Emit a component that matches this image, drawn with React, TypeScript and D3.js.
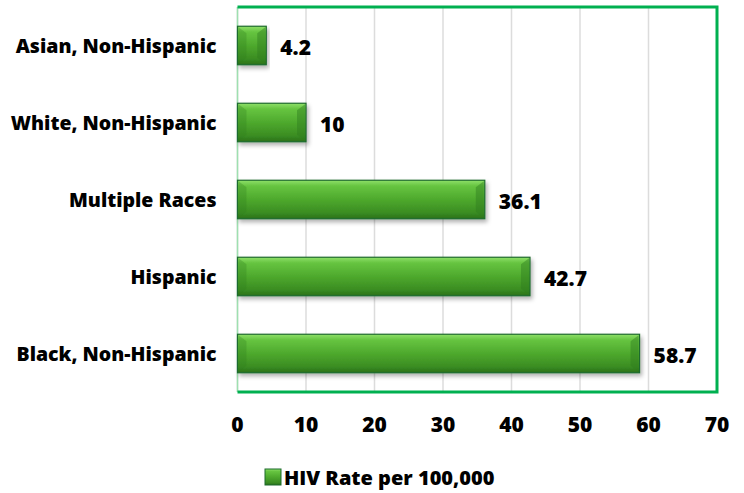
import React from "react";
import * as d3 from "d3";

const categories = ["Asian, Non-Hispanic", "White, Non-Hispanic", "Multiple Races", "Hispanic", "Black, Non-Hispanic"];
const values = [4.2, 10, 36.1, 42.7, 58.7];
const valueLabels = ["4.2", "10", "36.1", "42.7", "58.7"];
const xTicks = [0, 10, 20, 30, 40, 50, 60, 70];
const seriesName = "HIV Rate per 100,000";

const W = 744, H = 493;
const left = 237.5, right = 717, top = 7, bottom = 392;
const FONT = "'Open Sans', sans-serif";

export default function App() {
  const x = d3.scaleLinear().domain([0, 70]).range([left, right]);
  const y = d3.scaleBand().domain(categories).range([top, bottom]).paddingInner(0.5).paddingOuter(0.25);
  const bh = y.bandwidth();
  return (
    <svg width={W} height={H} style={{ position: "absolute", left: 0, top: 0, background: "#fff" }}>
      <defs>
        <linearGradient id="barg" x1="0" y1="0" x2="0" y2="1">
          <stop offset="0" stopColor="#8fe06a" />
          <stop offset="0.15" stopColor="#66c440" />
          <stop offset="0.5" stopColor="#4ea92d" />
          <stop offset="0.85" stopColor="#3a8c22" />
          <stop offset="1" stopColor="#2a7019" />
        </linearGradient>
        <filter id="sh" x="-5%" y="-20%" width="115%" height="160%">
          <feDropShadow dx="2" dy="3" stdDeviation="2" floodColor="#000" floodOpacity="0.3" />
        </filter>
      </defs>
      {xTicks.map((t) => (
        <line key={t} x1={x(t)} x2={x(t)} y1={top} y2={bottom} stroke="#dcdcdc" strokeWidth={1.5} />
      ))}
      <line x1={left} x2={left} y1={top} y2={bottom} stroke="#9ee0b0" strokeWidth={1.5} />
      {categories.map((c, i) => {
        const y0 = y(c)!;
        const xe = x(values[i]);
        return (
          <g key={c}>
            <rect x={x(0)} y={y0} width={xe - x(0)} height={bh} fill="url(#barg)" stroke="#1d6b2d" strokeWidth={1.2} filter="url(#sh)" />
            <polygon
              points={`${xe - 1},${y0 + 1} ${xe - 1},${y0 + bh - 1} ${xe - 9},${y0 + bh - 7} ${xe - 9},${y0 + 7}`}
              fill="#2f7d1f" opacity={0.45}
            />
            <polygon
              points={`${x(0) + 1},${y0 + 1} ${x(0) + 1},${y0 + bh - 1} ${x(0) + 9},${y0 + bh - 7} ${x(0) + 9},${y0 + 7}`}
              fill="#2f7d1f" opacity={0.3}
            />
            <text x={left - 21} y={y0 + bh / 2} textAnchor="end" dominantBaseline="central" fontFamily={FONT} fontWeight={800} fontSize={19.5} fill="#000">
              {c}
            </text>
            <text x={xe + 14} y={y0 + bh / 2 + 1} dominantBaseline="central" fontFamily={FONT} fontWeight={800} fontSize={21} fill="#000">
              {valueLabels[i]}
            </text>
          </g>
        );
      })}
      <polyline points={`${left},${top} ${right},${top} ${right},${bottom} ${left},${bottom}`} fill="none" stroke="#00b050" strokeWidth={3} />
      {xTicks.map((t) => (
        <text key={t} x={x(t)} y={424} textAnchor="middle" dominantBaseline="central" fontFamily={FONT} fontWeight={800} fontSize={21} fill="#000">
          {t}
        </text>
      ))}
      <rect x={265} y={469} width={16} height={16} fill="url(#barg)" stroke="#1d6b2d" strokeWidth={1} />
      <text x={284} y={477} dominantBaseline="central" fontFamily={FONT} fontWeight={800} fontSize={20} fill="#000">
        {seriesName}
      </text>
    </svg>
  );
}
